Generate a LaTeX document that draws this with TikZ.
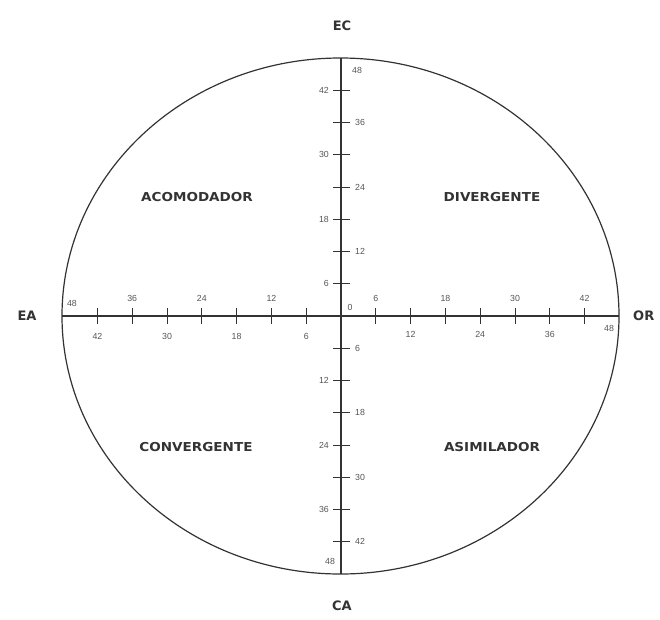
\documentclass[tikz,border=0pt]{standalone}
\usepackage{fontspec}
\setmainfont{DejaVu Sans}
\newfontfamily\tickfont{Liberation Sans}
\newfontfamily\quadfont[FakeStretch=1.1]{DejaVu Sans}
\definecolor{ink}{HTML}{333333}
\definecolor{tickink}{HTML}{555555}
\tikzset{
  axisline/.style={line width=1.4pt, draw=ink},
  rim/.style={line width=1.2pt, draw=ink},
  tickmark/.style={line width=1pt, draw=ink},
  ticklab/.style={font=\tickfont\fontsize{8.8}{8.8}\selectfont, text=tickink, inner sep=0pt},
  quadlab/.style={font=\quadfont\bfseries\fontsize{12.3}{12.3}\selectfont, text=ink, inner sep=0pt},
  polelab/.style={font=\bfseries\fontsize{13}{13}\selectfont, text=ink, inner sep=0pt}
}
\begin{document}
\begin{tikzpicture}[x=1pt,y=-1pt]
\path[use as bounding box, fill=white] (0,0) rectangle (660,619);
% ellipse
\draw[rim] (340.5,316) ellipse [x radius=278.5pt, y radius=258pt];
% axes
\coordinate (L) at (62,316);
\coordinate (R) at (619,316);
\coordinate (T) at (341,58);
\coordinate (B) at (341,574);
\coordinate (O) at (341,316);
\draw[axisline] (L) -- (R);
\draw[axisline] (T) -- (B);
% ticks
\foreach \i in {1,...,7}{
  \coordinate (hr\i) at ({341+\i*34.8},316);
  \coordinate (hl\i) at ({341-\i*34.8},316);
  \draw[tickmark] ([yshift=-8pt]hr\i) -- ([yshift=8pt]hr\i);
  \draw[tickmark] ([yshift=-8pt]hl\i) -- ([yshift=8pt]hl\i);
  \coordinate (vt\i) at (341,{316-\i*32.25});
  \coordinate (vb\i) at (341,{316+\i*32.25});
  \draw[tickmark] ([xshift=-8pt]vt\i) -- ([xshift=9pt]vt\i);
  \draw[tickmark] ([xshift=-8pt]vb\i) -- ([xshift=9pt]vb\i);
}
% labels
\foreach \i/\v in {1/6,3/18,5/30,7/42}{
  \node[ticklab] (hrl\i) at ([yshift=18pt]hr\i) {\v};
  \node[ticklab] (hll\i) at ([yshift=-20pt]hl\i) {\v};
  \node[ticklab, anchor=east] (vtl\i) at ([xshift=-12pt]vt\i) {\v};
  \node[ticklab, anchor=west] (vbl\i) at ([xshift=14pt]vb\i) {\v};
}
\foreach \i/\v in {2/12,4/24,6/36}{
  \node[ticklab] (hrl\i) at ([yshift=-18pt]hr\i) {\v};
  \node[ticklab] (hll\i) at ([yshift=18pt]hl\i) {\v};
  \node[ticklab, anchor=west] (vtl\i) at ([xshift=14pt]vt\i) {\v};
  \node[ticklab, anchor=east] (vbl\i) at ([xshift=-12pt]vb\i) {\v};
}
\node[ticklab] (hl8) at (72,303) {48};
\node[ticklab] (hr8) at (609,328) {48};
\node[ticklab] (vt8) at (357,70) {48};
\node[ticklab] (vb8) at (330,561) {48};
\node[ticklab] (zero) at (350,307) {0};
% quadrant labels
\node[quadlab] (acom) at (197,197) {ACOMODADOR};
\node[quadlab] (div) at (492,197) {DIVERGENTE};
\node[quadlab] (conv) at (196,447) {CONVERGENTE};
\node[quadlab] (asim) at (492,447) {ASIMILADOR};
% pole labels
\node[polelab] (ec) at (342,26) {EC};
\node[polelab] (ca) at (342,606) {CA};
\node[polelab] (ea) at (27,316) {EA};
\node[polelab, anchor=west] (or) at (633,316) {OR};
\end{tikzpicture}
\end{document}
